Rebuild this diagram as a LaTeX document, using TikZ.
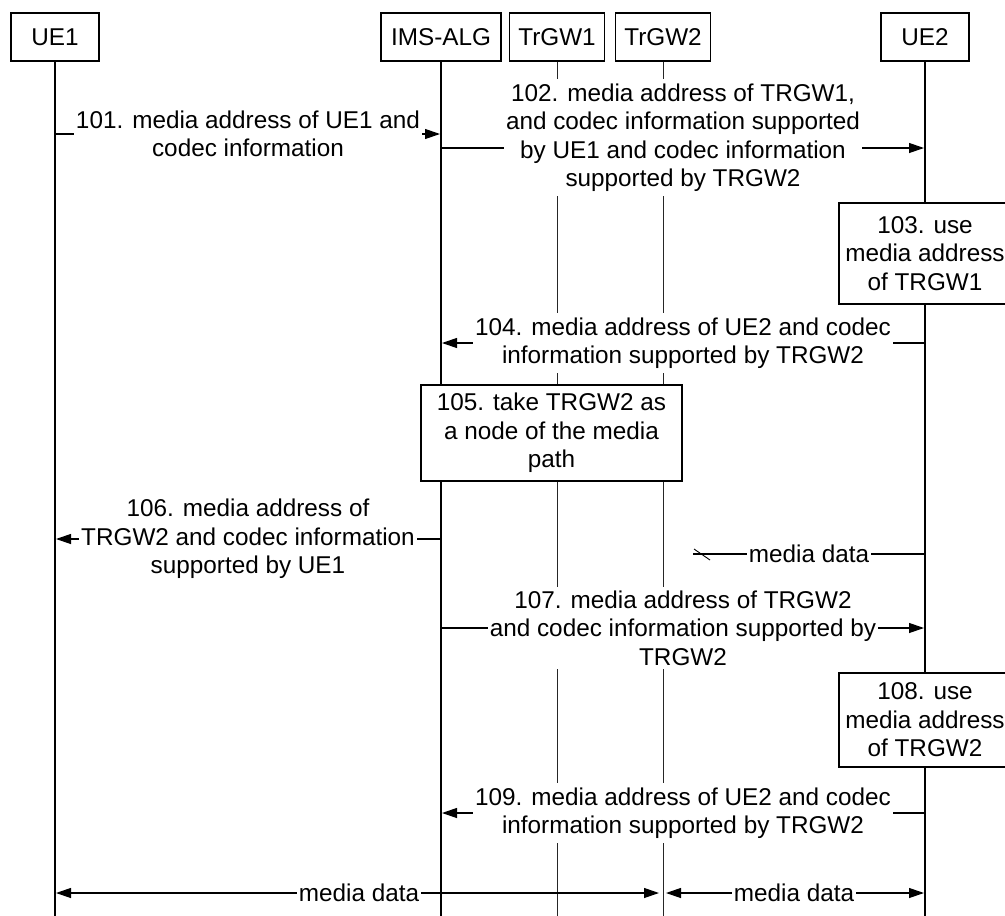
\documentclass[tikz,border=0pt]{standalone}
\usepackage{fontspec}
\setmainfont{Liberation Sans}
\usetikzlibrary{arrows.meta}

\begin{document}
\begin{tikzpicture}[x=1pt,y=-1pt,>={Triangle[length=15pt,width=10pt]},shorten >=1pt,line width=1.2pt,font=\fontsize{24.3}{28.5}\selectfont]

            \tikzstyle{head}=[draw,minimum width=88pt,minimum height=48pt,inner xsep=9pt]
            \tikzstyle{life}=[-,shorten >=0pt,line width=1.2pt]
            \tikzstyle{gwlife}=[-,shorten >=0pt,line width=0.8pt,black!85]
            \tikzstyle{msg}=[fill=white,align=center,inner xsep=2pt,inner ysep=4pt]
            \tikzstyle{act}=[draw,fill=white,align=center,minimum width=172pt]

            \useasboundingbox (0,0) rectangle (1005,916);

            \node[head]                     (ue1)   at (55,37)  {UE1};
            \node[head,minimum width=120pt] (ims)   at (441,37) {IMS-ALG};
            \node[head]                     (trgw1) at (557,37) {TrGW1};
            \node[head]                     (trgw2) at (663,37) {TrGW2};
            \node[head]                     (ue2)   at (925,37) {UE2};

            \foreach \r/\y in {bot/916,r101/134,r102/148,r103/253.5,r104/343,r106/539,rlost/554,r107/628,r108/720,r109/813,rdata/893}
                \coordinate (\r) at (0,\y);
            \coordinate (lost) at (693,554);

            \foreach \n in {ue1,ims,ue2}
                \draw[life] (\n) -- (\n |- bot);
            \foreach \n in {trgw1,trgw2}
                \draw[gwlife] (\n) -- (\n |- bot);

            \draw[->] (ue1 |- r101) -- node[msg] {101. media address of UE1 and\\codec information} (ims |- r101);
            \draw[->] (ims |- r102) -- node[msg,yshift=10.5pt] {102. media address of TRGW1,\\and codec information supported\\by UE1 and codec information\\supported by TRGW2} (ue2 |- r102);
            \node[act,minimum height=101pt] (a103) at (ue2 |- r103) {103. use\\media address\\of TRGW1};
            \draw[->] (ue2 |- r104) -- node[msg] {104. media address of UE2 and codec\\information supported by TRGW2} (ims |- r104);
            \node[act,minimum width=261pt,minimum height=96pt] (a105) at (551.5,433) {105. take TRGW2 as\\a node of the media\\path};
            \draw[->] (ims |- r106) -- node[msg] {106. media address of\\TRGW2 and codec information\\supported by UE1} (ue1 |- r106);
            \draw[-,shorten >=0pt] (ue2 |- rlost) -- node[msg] {media data} (lost);
            \draw[-,shorten >=0pt,line width=0.9pt] ([shift={(1,-5)}]lost) -- ++(16,11);
            \draw[->] (ims |- r107) -- node[msg] {107. media address of TRGW2\\and codec information supported by\\TRGW2} (ue2 |- r107);
            \node[act,minimum height=94pt] (a108) at (ue2 |- r108) {108. use\\media address\\of TRGW2};
            \draw[->] (ue2 |- r109) -- node[msg] {109. media address of UE2 and codec\\information supported by TRGW2} (ims |- r109);
            \draw[<->,shorten <=1pt,shorten >=4pt] (ue1 |- rdata) -- node[msg] {media data} (trgw2 |- rdata);
            \draw[<->,shorten <=3pt] (trgw2 |- rdata) -- node[msg] {media data} (ue2 |- rdata);
        \end{tikzpicture}
\end{document}
